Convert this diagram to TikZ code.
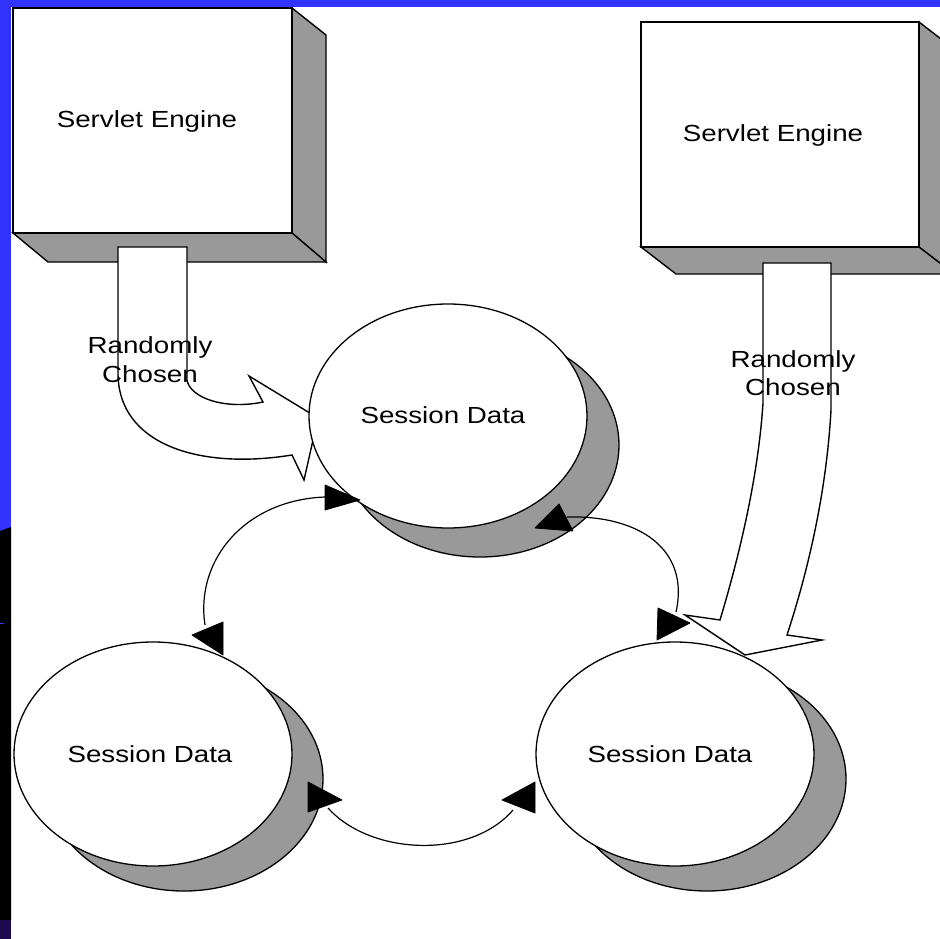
\documentclass[tikz,border=0pt]{standalone}
\usepackage{fontspec}
\newfontfamily\diagfont[FakeStretch=1.19]{Liberation Sans}
\usetikzlibrary{shapes.geometric}
\definecolor{slideblue}{RGB}{51,51,255}
\definecolor{facegray}{RGB}{153,153,153}
\definecolor{deeppurple}{RGB}{30,10,80}

\begin{document}
\begin{tikzpicture}[x=1pt,y=-1pt,
  strokeline/.style={draw=black,line width=1.4pt,line join=miter},
  frontface/.style={strokeline,fill=white},
  sideface/.style={strokeline,fill=facegray},
  enginebox/.style={frontface,rectangle,anchor=north west,inner sep=0pt,outer sep=0pt,minimum height=225pt},
  bubble/.style={ellipse,inner sep=0pt,outer sep=0pt,minimum width=278pt,minimum height=224pt,draw=black,line width=1.3pt,fill=white},
  bubbleshade/.style={bubble,fill=facegray},
  txt/.style={font=\diagfont\fontsize{23.3}{28}\selectfont,anchor=base,inner sep=0pt,text=black},
  tiphead/.style={fill=black,draw=black,line width=0.8pt,line join=round},
  link/.style={draw=black,line width=1.2pt},
]
% page and slide edges
\fill[white] (0,0) rectangle (940,939);
\useasboundingbox (0,0) rectangle (940,939);
\clip (0,0) rectangle (940,939);
\fill[slideblue] (0,0) rectangle (940,7);
\fill[slideblue] (0,0) rectangle (11,532);
\fill[black] (0,531) -- (11,527) -- (11,920) -- (0,920) -- cycle;
\fill[deeppurple] (0,920) rectangle (11,939);
\draw[slideblue,line width=1pt] (0,623) -- (4,623);

% left servlet engine block
\draw[sideface] (292,8) -- (326,35) -- (326,262) -- (292,233) -- cycle;
\draw[sideface] (13,233) -- (292,233) -- (326,262) -- (48,262) -- cycle;
\node[enginebox,minimum width=279pt] (eng1) at (13,8) {};

% right servlet engine block
\draw[sideface] (919,22) -- (954,49) -- (954,274) -- (919,247) -- cycle;
\draw[sideface] (641,247) -- (919,247) -- (954,274) -- (676,274) -- cycle;
\node[enginebox,minimum width=278pt] (eng2) at (641,22) {};

% block arrows leaving the engines
\draw[frontface] (118,247) -- (187,247) -- (187,380)
  .. controls (190,398) and (225,410) .. (263,402)
  -- (249,376) -- (318,418) -- (304,480) -- (292,455)
  .. controls (200,470) and (118,445) .. (118,373) -- cycle;
\draw[frontface] (763,263) -- (831,263) -- (831,410)
  .. controls (826,500) and (805,580) .. (787,635)
  -- (822,640) -- (745,655) -- (685,615) -- (720,620)
  .. controls (738,560) and (758,480) .. (763,403) -- cycle;

% session data stores with their shadows
\node[bubbleshade] (sh1) at (480,445) {};
\node[bubble] (sd1) at (448,416) {};
\node[bubbleshade] (sh2) at (184,779) {};
\node[bubble] (sd2) at (153,754) {};
\node[bubbleshade] (sh3) at (707,779) {};
\node[bubble] (sd3) at (675,754) {};

% replication links between the stores
\coordinate (l1a) at (325,497);
\coordinate (l1b) at (205,625);
\draw[link] (l1a) .. controls (245,500) and (195,560) .. (l1b);
\filldraw[tiphead] (325,485) -- (360,500) -- (325,510) -- cycle;
\filldraw[tiphead] (192,635) -- (223,622) -- (223,655) -- cycle;

\coordinate (l2a) at (567,517);
\coordinate (l2b) at (676,612);
\draw[link] (l2a) .. controls (640,515) and (690,550) .. (l2b);
\filldraw[tiphead] (535,528) -- (559,504) -- (573,531) -- cycle;
\filldraw[tiphead] (658,608) -- (690,623) -- (657,640) -- cycle;

\coordinate (l3a) at (328,808);
\coordinate (l3b) at (513,810);
\draw[link] (l3a) .. controls (370,855) and (470,860) .. (l3b);
\filldraw[tiphead] (308,782) -- (342,800) -- (308,812) -- cycle;
\filldraw[tiphead] (502,800) -- (535,782) -- (535,813) -- cycle;

% texts
\node[txt] (t1) at (147,128) {Servlet Engine};
\node[txt] (t2) at (773,142) {Servlet Engine};
\node[txt] (r1) at (150,353) {Randomly};
\node[txt] (c1) at (150,382) {Chosen};
\node[txt] (r2) at (793,367) {Randomly};
\node[txt] (c2) at (793,395) {Chosen};
\node[txt] (s1) at (443,423) {Session Data};
\node[txt] (s2) at (150,762) {Session Data};
\node[txt] (s3) at (670,762) {Session Data};
\end{tikzpicture}
\end{document}
